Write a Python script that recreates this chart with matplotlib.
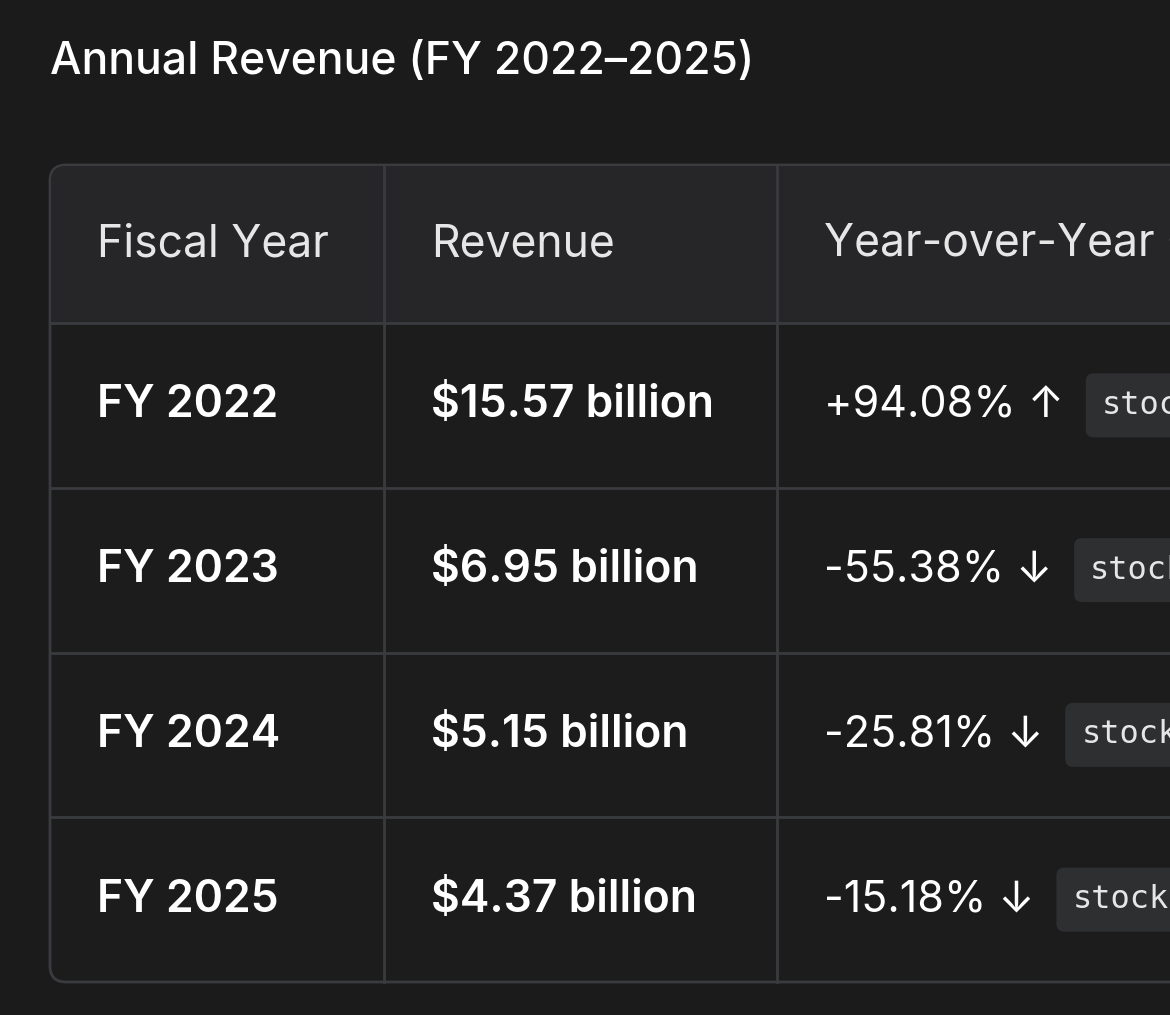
import matplotlib.pyplot as plt
from matplotlib.patches import FancyBboxPatch, Rectangle

plt.rcParams['font.family'] = ['Inter', 'DejaVu Sans']

title = "Annual Revenue (FY 2022\u20132025)"
headers = ["Fiscal Year", "Revenue", "Year-over-Year Change"]
years = ["FY 2022", "FY 2023", "FY 2024", "FY 2025"]
revenue = ["$15.57 billion", "$6.95 billion", "$5.15 billion", "$4.37 billion"]
yoy = ["+94.08% \u2191", "-55.38% \u2193", "-25.81% \u2193", "-15.18% \u2193"]
badge = "stock"

W, H = 1170, 1015
bg = "#1b1b1c"
fig = plt.figure(figsize=(W / 100, H / 100), dpi=100, facecolor=bg)
ax = fig.add_axes([0, 0, 1, 1])
ax.set_xlim(0, W)
ax.set_ylim(H, 0)
ax.axis("off")

ax.text(50, 62, title, color="white", fontsize=32, fontweight="medium", va="center", ha="left")

left, top, bottom = 50, 165, 982
header_h = 158
row_h = (bottom - top - header_h) / len(years)
col_x = [50, 384, 777, 1300]
line_c = "#3a3b3e"

# table body & header
body = FancyBboxPatch((left, top), 1300, bottom - top, boxstyle="round,pad=0,rounding_size=16",
                      fc="#1c1c1d", ec=line_c, lw=2, zorder=1)
ax.add_patch(body)
hdr = FancyBboxPatch((left + 1, top + 1), 1300, header_h, boxstyle="round,pad=0,rounding_size=15",
                     fc="#262629", ec="none", zorder=1.5)
ax.add_patch(hdr)
ax.add_patch(Rectangle((left + 1, top + 20), 1300, header_h - 20, fc="#262629", ec="none", zorder=1.5))

for i in range(len(years)):
    y = top + header_h + i * row_h
    ax.plot([left, W], [y, y], color=line_c, lw=2, zorder=2)
for x in col_x[1:3]:
    ax.plot([x, x], [top, bottom], color=line_c, lw=2, zorder=2)

pad = 47
for j, h in enumerate(headers):
    ax.text(col_x[j] + pad, top + header_h / 2, h, color="#e6e6e6", fontsize=32,
            va="center", zorder=3, clip_on=True)

fig.canvas.draw()
r = fig.canvas.get_renderer()
for i in range(len(years)):
    yc = top + header_h + (i + 0.5) * row_h
    ax.text(col_x[0] + pad, yc, years[i], color="white", fontsize=32, fontweight="semibold", va="center", zorder=3)
    ax.text(col_x[1] + pad, yc, revenue[i], color="white", fontsize=32, fontweight="semibold", va="center", zorder=3)
    t = ax.text(col_x[2] + pad, yc, yoy[i], color="white", fontsize=31, va="center", zorder=3)
    bb = t.get_window_extent(r)
    bx = bb.x1 + 22
    ax.add_patch(FancyBboxPatch((bx, yc - 32), 200, 64, boxstyle="round,pad=0,rounding_size=8",
                                fc="#2e2f31", ec="none", zorder=3))
    ax.text(bx + 16, yc, badge, color="#e6e6e6", fontsize=23, family="DejaVu Sans Mono",
            va="center", zorder=4, clip_on=True)

fig.savefig("out.png", dpi=100, facecolor=bg)
